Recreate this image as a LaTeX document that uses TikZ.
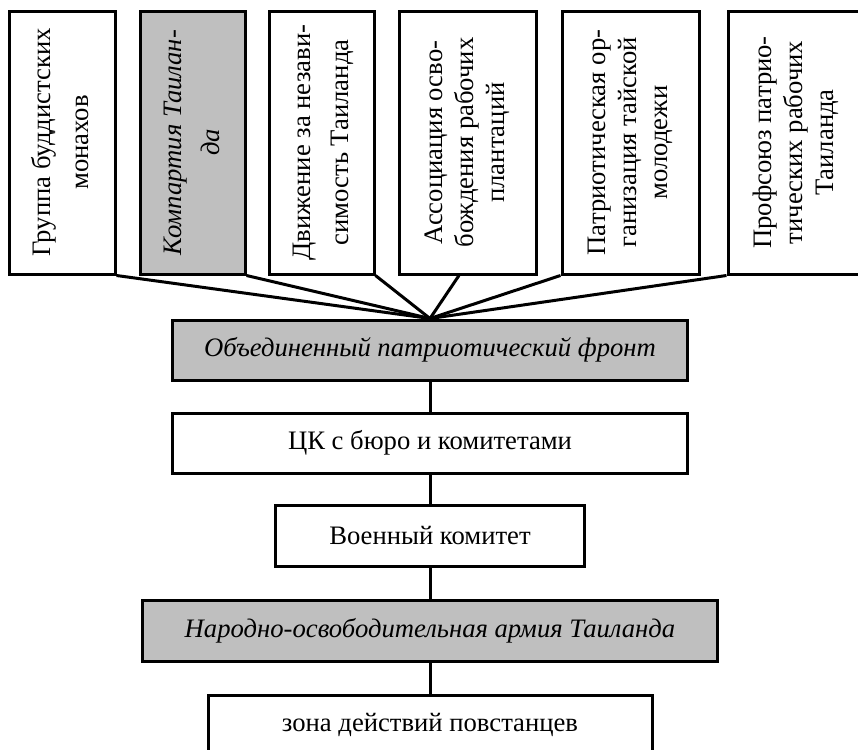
\documentclass[tikz,border=0pt]{standalone}
\usepackage{fontspec}
\setmainfont{Liberation Serif}
\usepackage{graphicx}
\usepackage{tikz}

\newcommand{\vlines}[1]{\rotatebox{90}{\begin{tabular}{@{}c@{}}#1\end{tabular}}}

\begin{document}
\begin{tikzpicture}[x=0.75pt,y=-0.75pt,
  box/.style={draw,line width=2.25pt,inner sep=0pt,font=\fontsize{20}{28.5}\selectfont},
  shaded/.style={fill=black!25,font=\fontsize{20}{28.5}\selectfont\itshape},
  orgbox/.style={box,minimum height=197.25pt},
  tight/.style={execute at begin node={\def\arraystretch{0.82}}},
  link/.style={line width=2.25pt}]
  \useasboundingbox (0,0) rectangle (858,750);
  \node[orgbox,minimum width=79.5pt] (monks) at (62,142.5) {\vlines{Группа буддистских\\монахов}};
  \node[orgbox,shaded,minimum width=78.75pt] (party) at (192.5,142.5) {\vlines{Компартия Таилан-\\да}};
  \node[orgbox,minimum width=78.75pt] (indep) at (321.5,142.5) {\vlines{Движение за незави-\\симость Таиланда}};
  \node[orgbox,tight,minimum width=102.75pt] (plant) at (467.5,142.5) {\vlines{Ассоциация осво-\\бождения рабочих\\плантаций}};
  \node[orgbox,tight,minimum width=102.75pt] (youth) at (630.5,142.5) {\vlines{Патриотическая ор-\\ганизация тайской\\молодежи}};
  \node[orgbox,tight,minimum width=102.75pt] (union) at (796.5,142.5) {\vlines{Профсоюз патрио-\\тических рабочих\\Таиланда}};
  \node[box,shaded,minimum width=386.25pt,minimum height=45pt] (front) at (430,350) {Объединенный патриотический фронт};
  \node[box,minimum width=386.25pt,minimum height=45pt] (ck) at (430,443) {ЦК с бюро и комитетами};
  \node[box,minimum width=231.75pt,minimum height=45.75pt] (mil) at (430,535.5) {Военный комитет};
  \node[box,shaded,minimum width=431.25pt,minimum height=45.75pt] (army) at (430,630.5) {Народно-освободительная армия Таиланда};
  \node[box,minimum width=333pt,minimum height=45pt] (zone) at (430,725) {зона действий повстанцев};
  \draw[link] (monks.south east) -- (front.north);
  \draw[link] (party.south east) -- (front.north);
  \draw[link] (indep.south east) -- (front.north);
  \draw[link] ([xshift=-6.4pt]plant.south) -- (front.north);
  \draw[link] (youth.south west) -- (front.north);
  \draw[link] (union.south west) -- (front.north);
  \draw[link] (front.south) -- (ck.north);
  \draw[link] (ck.south) -- (mil.north);
  \draw[link] (mil.south) -- (army.north);
  \draw[link] (army.south) -- (zone.north);
\end{tikzpicture}
\end{document}
